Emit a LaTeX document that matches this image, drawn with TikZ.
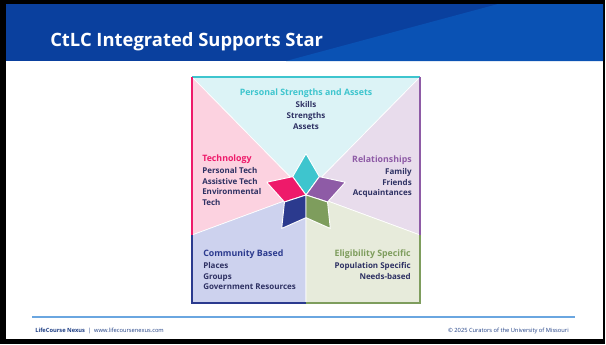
\documentclass[tikz,border=0pt]{standalone}
\usepackage{fontspec}
\setmainfont{Open Sans}
\usetikzlibrary{positioning}

\definecolor{hdrblue}{HTML}{0A409E}
\definecolor{hdrlight}{HTML}{0A52B4}
\definecolor{psaC}{HTML}{3EC5CE}
\definecolor{psaL}{HTML}{DCF3F6}
\definecolor{techC}{HTML}{EE1A6A}
\definecolor{techL}{HTML}{FCD2E0}
\definecolor{relC}{HTML}{8E5BA6}
\definecolor{relL}{HTML}{E8DCEC}
\definecolor{comC}{HTML}{2B3A8E}
\definecolor{comL}{HTML}{CDD2EE}
\definecolor{eliC}{HTML}{7E9D5D}
\definecolor{eliL}{HTML}{E7EBDB}
\definecolor{itemC}{HTML}{2E3163}
\definecolor{footC}{HTML}{1F3F85}
\definecolor{ruleC}{HTML}{6AA6E0}

\tikzstyle{region}=[draw=white,line width=0.5pt]
\tikzstyle{rim}=[line width=1.6pt]
\tikzstyle{point}=[draw=white,line width=0.7pt,line join=round]
\tikzstyle{head}=[inner sep=0pt,font=\fontsize{6.6}{8}\selectfont\bfseries]
\tikzstyle{item}=[inner sep=0pt,text=itemC,font=\fontsize{6}{8}\selectfont\bfseries]
\tikzstyle{foot}=[inner sep=0pt,text=footC,font=\fontsize{4.3}{5}\selectfont]

\begin{document}
\begin{tikzpicture}[x=0.75pt,y=-0.75pt]
	\useasboundingbox (0,0) rectangle (606,344);

	% Slide frame and title bar
	\fill[black] (0,0) rectangle (605,344);
	\fill[white] (6,4) rectangle (603,339);
	\fill[hdrblue] (6,4) rectangle (603,61);
	\fill[hdrlight] (286,61) -- (498,4) -- (603,4) -- (603,61) -- cycle;
	\node[anchor=base west,inner sep=0pt,text=white,font=\fontsize{13.8}{16}\selectfont\bfseries] (title) at (50,46) {CtLC Integrated Supports Star};

	% Corners of the square
	\coordinate (tl) at (192,77);
	\coordinate (tr) at (420,77);
	\coordinate (br) at (420,303);
	\coordinate (bl) at (192,303);
	\coordinate (lm) at (192,235);
	\coordinate (rm) at (420,235);
	\coordinate (bm) at (306,303);
	\coordinate (c) at (306,193);

	% Fill the five areas
	\path[region,fill=psaL] (tl) -- (tr) -- (c) -- cycle;
	\path[region,fill=techL] (tl) -- (c) -- (lm) -- cycle;
	\path[region,fill=relL] (tr) -- (rm) -- (c) -- cycle;
	\path[region,fill=comL] (lm) -- (c) -- (bm) -- (bl) -- cycle;
	\path[region,fill=eliL] (c) -- (rm) -- (br) -- (bm) -- cycle;

	% Coloured rim
	\draw[rim,psaC] (tl) -- (tr);
	\draw[rim,relC] (tr) -- (rm);
	\draw[rim,eliC] (rm) -- (br) -- (bm);
	\draw[rim,comC] (bm) -- (bl) -- (lm);
	\draw[rim,techC] (lm) -- (tl);

	% Star in the middle
	\coordinate (s) at (306,195);
	\foreach \ang/\col in {90/psaC, 162/techC, 18/relC, 234/comC, 306/eliC}
	\path[point,fill=\col] (s) -- +(\ang-36:17pt) -- +(\ang:31pt) -- +(\ang+36:17pt) -- cycle;

	% Labels
	\node[head,text=psaC,anchor=base] (psa) at (306,95.5) {Personal Strengths and Assets};
	\node[item,align=center,below=2.8pt of psa] (psaitems) {Skills\\Strengths\\Assets};

	\node[head,text=techC,anchor=base west] (tech) at (202,161) {Technology};
	\node[item,align=left,below right=2.8pt and 0pt of tech.south west] (techitems) {Personal Tech\\Assistive Tech\\Environmental\\Tech};

	\node[head,text=relC,anchor=base east] (rel) at (412,162) {Relationships};
	\node[item,align=right,below left=2.8pt and 0pt of rel.south east] (relitems) {Family\\Friends\\Acquaintances};

	\node[head,text=comC,anchor=base west] (com) at (203,256) {Community Based};
	\node[item,align=left,below right=2.8pt and 0pt of com.south west] (comitems) {Places\\Groups\\Government Resources};

	\node[head,text=eliC,anchor=base east] (eli) at (411,256) {Eligibility Specific};
	\node[item,align=right,below left=2.8pt and 0pt of eli.south east] (eliitems) {Population Specific\\Needs-based};

	% Footer
	\draw[ruleC,line width=1.2pt] (32,317) -- (575,317);
	\node[foot,anchor=base west] (site) at (35,332.5) {\textbf{LifeCourse Nexus}\ \ |\ \ www.lifecoursenexus.com};
	\node[foot,anchor=base east] (copy) at (569,332.5) {© 2025 Curators of the University of Missouri};
\end{tikzpicture}
\end{document}
